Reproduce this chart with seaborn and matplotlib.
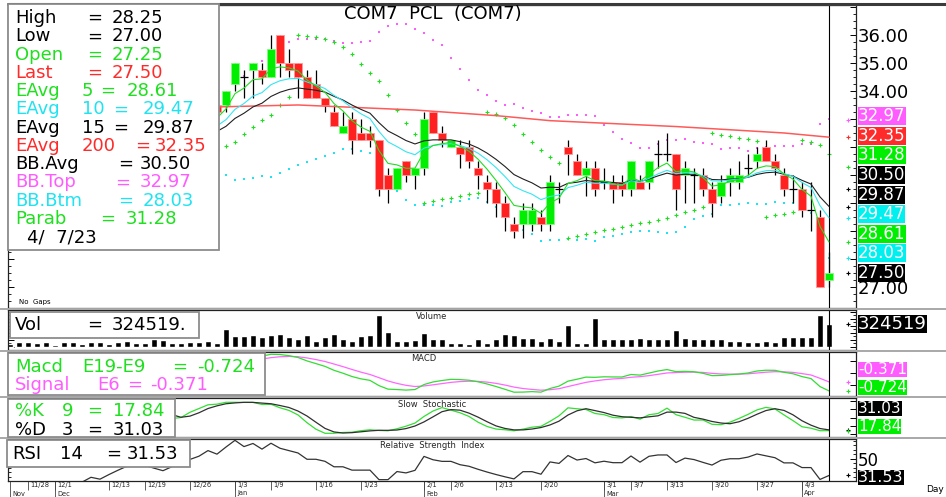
import numpy as np
import pandas as pd
import seaborn as sns
import matplotlib.pyplot as plt
import matplotlib.transforms as mtrans
from matplotlib.patches import Rectangle
from matplotlib.lines import Line2D
from matplotlib.ticker import MultipleLocator

# daily bars of COM7, 24 Nov 2022 .. 7 Apr 2023 (the first ~23 sit behind the info box)
opens = [31.5, 31.75, 31.5, 31.25, 31.5, 31.75, 31.5, 31.25, 31.5, 31.75,
         32.0, 31.75, 32.0, 32.25, 32.5, 32.75, 32.5, 32.25, 32.0, 32.25,
         32.5, 32.75, 33.0, 33.5, 33.5, 34.25, 34.5, 34.75, 34.75, 34.5,
         36.0, 35.0, 35.0, 34.5, 34.25, 33.75, 33.25, 32.5, 33.0, 32.5,
         32.5, 32.25, 31.0, 30.5, 31.5, 31.0, 31.25, 33.25, 32.5, 32.0,
         32.0, 32.0, 31.25, 30.75, 30.5, 30.0, 29.25, 29.25, 29.25, 29.5,
         29.25, 30.5, 32.0, 31.5, 31.0, 31.25, 30.75, 30.75, 30.75, 30.5,
         30.75, 30.75, 31.75, 31.75, 31.75, 31.0, 31.0, 31.0, 30.5, 30.25,
         30.75, 30.75, 31.25, 31.5, 32.0, 31.5, 31.0, 30.5, 30.5, 29.75,
         29.5, 27.25]
highs = [32.0, 32.0, 31.75, 31.75, 32.0, 31.75, 31.75, 31.75, 32.0, 32.25,
         32.25, 32.25, 32.5, 32.75, 33.0, 33.0, 32.75, 32.5, 32.5, 32.75,
         33.0, 33.25, 33.5, 33.5, 34.0, 35.0, 34.75, 35.0, 35.0, 36.0,
         36.0, 35.5, 35.0, 34.75, 34.75, 33.75, 33.5, 33.25, 33.25, 33.0,
         32.75, 32.25, 31.25, 31.25, 31.5, 31.25, 33.25, 33.25, 32.75, 32.25,
         32.25, 32.25, 31.5, 31.0, 30.75, 30.25, 29.5, 30.0, 30.0, 29.75,
         31.0, 30.75, 32.25, 31.75, 31.5, 31.5, 31.25, 31.0, 31.0, 31.5,
         31.0, 31.5, 32.25, 32.5, 31.75, 31.5, 31.25, 31.25, 30.75, 31.0,
         31.25, 31.5, 31.75, 32.0, 32.25, 31.75, 31.25, 31.0, 30.75, 30.75,
         29.75, 28.25]
lows = [31.25, 31.25, 31.0, 31.0, 31.25, 31.25, 31.0, 31.0, 31.25, 31.5,
        31.5, 31.5, 31.75, 32.0, 32.25, 32.25, 32.0, 31.75, 31.75, 32.0,
        32.25, 32.5, 32.75, 33.0, 33.25, 34.0, 33.75, 33.75, 34.25, 34.5,
        34.5, 34.5, 33.75, 33.75, 33.75, 33.25, 32.75, 32.5, 31.75, 32.25,
        32.0, 30.25, 30.0, 30.5, 30.75, 30.5, 31.0, 32.5, 32.0, 32.0,
        31.25, 31.25, 30.5, 30.0, 29.5, 29.0, 28.75, 28.75, 29.0, 29.0,
        29.0, 30.0, 31.0, 31.0, 30.25, 30.25, 30.5, 30.0, 30.25, 30.25,
        30.5, 30.5, 31.25, 31.5, 29.75, 30.0, 30.0, 30.25, 29.5, 30.0,
        30.25, 30.5, 31.0, 31.25, 31.5, 31.0, 30.25, 30.0, 29.5, 29.0,
        27.0, 27.0]
closes = [31.75, 31.5, 31.25, 31.5, 31.75, 31.5, 31.25, 31.5, 31.75, 32.0,
          31.75, 32.0, 32.25, 32.5, 32.75, 32.5, 32.25, 32.0, 32.25, 32.5,
          32.75, 33.0, 33.5, 33.25, 34.0, 35.0, 34.5, 35.0, 34.5, 35.5,
          35.0, 34.75, 34.5, 33.75, 33.75, 33.5, 32.75, 32.75, 32.25, 32.25,
          32.25, 30.5, 30.5, 31.25, 31.0, 31.25, 33.0, 32.5, 32.25, 32.25,
          31.75, 31.5, 31.0, 30.5, 30.0, 29.5, 29.0, 29.75, 29.75, 29.25,
          30.75, 30.5, 31.75, 31.0, 31.25, 30.5, 30.75, 30.5, 30.5, 31.5,
          30.5, 31.5, 31.75, 31.75, 30.5, 31.25, 31.0, 30.5, 30.0, 30.75,
          31.0, 31.0, 31.25, 31.75, 31.5, 31.25, 30.5, 30.5, 29.75, 29.75,
          27.0, 27.5]
# volume, thousands of shares
volume = [45, 70, 75, 60, 70, 35, 65, 70, 40, 70,
          65, 40, 75, 80, 55, 60, 110, 100, 55, 60,
          70, 65, 85, 60, 250, 155, 150, 170, 140, 165,
          180, 140, 110, 165, 80, 140, 180, 120, 90, 150,
          170, 450, 215, 90, 85, 95, 200, 110, 110, 55,
          60, 40, 110, 60, 120, 180, 175, 130, 130, 85,
          125, 85, 310, 60, 60, 405, 110, 110, 120, 110,
          130, 110, 110, 120, 235, 130, 120, 110, 120, 110,
          80, 85, 75, 75, 85, 75, 140, 140, 140, 140,
          450, 324.519]

tick_bars = [2, 5, 11, 15, 20, 25, 29, 34, 39, 46, 49, 54, 59, 66, 69, 73, 78, 83, 88]
tick_labels = ["11/28", "12/1", "12/13", "12/19", "12/26", "1/3", "1/9", "1/16", "1/23",
               "2/1", "2/6", "2/13", "2/20", "3/1", "3/7", "3/13", "3/20", "3/27", "4/3"]
month_bars = [0, 5, 25, 46, 66, 88]
month_labels = ["Nov", "Dec", "Jan", "Feb", "Mar", "Apr"]

# price scale labels that are not hidden behind the value boxes
price_labels = [27, 34, 35, 36]

# EAvg 200 goes back far before the window, so it is read straight off the chart
ema200_bars = [23, 32, 45, 54, 60, 74, 86, 91]
ema200_vals = [33.43, 33.50, 33.32, 33.12, 32.94, 32.73, 32.50, 32.35]

# readout for the last bar
info_names = ["High", "Low", "Open", "Last", "EAvg", "EAvg", "EAvg", "EAvg",
              "BB.Avg", "BB.Top", "BB.Btm", "Parab"]
info_periods = ["", "", "", "", "5", "10", "15", "200", "", "", "", ""]
info_values = [28.25, 27.00, 27.25, 27.50, 28.61, 29.47, 29.87, 32.35,
               30.50, 32.97, 28.03, 31.28]
last_date = "4/  7/23"
vol_last = 324519
macd_last, signal_last = -0.724, -0.371
k_last, d_last = 17.84, 31.03
rsi_last = 31.53

GREEN, RED, CYAN, MAG, BLACK = "#1fe01f", "#ff2a2a", "#1fe3f0", "#ff5cff", "#000000"

# ---------- indicators ----------
df = pd.DataFrame({"open": opens, "high": highs, "low": lows, "close": closes, "volume": volume})
bars = np.arange(len(df))
o, h, l, c = (df[k].to_numpy() for k in ["open", "high", "low", "close"])
close = df["close"]

ema5 = close.ewm(span=5, adjust=False).mean()
ema10 = close.ewm(span=10, adjust=False).mean()
ema15 = close.ewm(span=15, adjust=False).mean()
bb_mid = close.rolling(20).mean()
bb_sd = close.rolling(20).std(ddof=0)
bb_top = bb_mid + 2 * bb_sd
bb_btm = bb_mid - 2 * bb_sd


def parabolic(high, low, step=0.02, cap=0.2):
    sar = np.empty(len(high))
    up, af, ep = True, step, high[0]
    sar[0] = low[0]
    for i in range(1, len(high)):
        s = sar[i - 1] + af * (ep - sar[i - 1])
        if up:
            s = min(s, low[i - 1], low[max(i - 2, 0)])
            if low[i] < s:
                up, s, ep, af = False, ep, low[i], step
            elif high[i] > ep:
                ep, af = high[i], min(af + step, cap)
        else:
            s = max(s, high[i - 1], high[max(i - 2, 0)])
            if high[i] > s:
                up, s, ep, af = True, ep, high[i], step
            elif low[i] < ep:
                ep, af = low[i], min(af + step, cap)
        sar[i] = s
    return sar


sar = parabolic(h, l)

macd = close.ewm(span=9, adjust=False).mean() - close.ewm(span=19, adjust=False).mean()
signal = macd.ewm(span=6, adjust=False).mean()

ll = df["low"].rolling(9).min()
hh = df["high"].rolling(9).max()
slow_k = (100 * (close - ll) / (hh - ll)).rolling(3).mean()
slow_d = slow_k.rolling(3).mean()

delta = close.diff()
gain = delta.clip(lower=0).ewm(alpha=1 / 14, adjust=False).mean()
loss = (-delta.clip(upper=0)).ewm(alpha=1 / 14, adjust=False).mean()
rsi = 100 - 100 / (1 + gain / loss)

# ---------- figure ----------
sns.set_style("white")
plt.rcParams["font.family"] = ["DejaVu Sans"]

W, H = 946, 497
fig = plt.figure(figsize=(W / 100, H / 100), dpi=100)


def rect(x0, y0, x1, y1):
    return [x0 / W, 1 - y1 / H, (x1 - x0) / W, (y1 - y0) / H]


ax_p = fig.add_axes(rect(8, 5, 856, 308))
ax_v = fig.add_axes(rect(8, 310, 856, 350))
ax_m = fig.add_axes(rect(8, 352, 856, 396))
ax_s = fig.add_axes(rect(8, 398, 856, 437))
ax_r = fig.add_axes(rect(8, 439, 856, 481))
panels = [ax_p, ax_v, ax_m, ax_s, ax_r]

for ax in panels:
    ax.set_xlim(-0.22, 94)
    ax.set_xticks([])
    for sp in ax.spines.values():
        sp.set_color("#222222")
        sp.set_linewidth(0.9)
    ax.tick_params(axis="y", which="both", direction="in", left=True, right=True,
                   labelleft=False, labelright=True, colors="black", labelsize=13, pad=1.5)
    ax.tick_params(axis="y", which="major", length=4, width=0.7)
    ax.tick_params(axis="y", which="minor", length=2.5, width=0.6)
    ax.axvline(bars[-1], color="black", lw=0.8, zorder=2.5)


def value_box(ax, x, y, s, bg, transform, size=12):
    ax.text(x, y, s, transform=transform, color="white", fontsize=size, va="center",
            ha="left", clip_on=False, zorder=6,
            bbox=dict(boxstyle="square,pad=0", fc=bg, ec="none"))


# --- price panel
ax = ax_p
ax.set_ylim(26.25, 37.07)
ax.yaxis.set_major_locator(MultipleLocator(1))
ax.yaxis.set_minor_locator(MultipleLocator(0.25))
ax.yaxis.set_major_formatter(lambda v, p: f"{v:.2f}" if round(v) in price_labels else "")

sns.scatterplot(x=bars[19:], y=bb_top[19:].values, ax=ax, color=MAG, marker="s", s=2,
                linewidth=0, zorder=1)
sns.scatterplot(x=bars[19:], y=bb_btm[19:].values, ax=ax, color=CYAN, marker="s", s=2,
                linewidth=0, zorder=1)
sns.scatterplot(x=bars[1:], y=sar[1:], ax=ax, color=GREEN, marker="+", s=8,
                linewidth=0.8, zorder=1)

up, dn, flat = c > o, c < o, c == o
ax.vlines(bars, l, h, color="black", lw=0.9, zorder=2)
ax.bar(bars[up], (c - o)[up], bottom=o[up], width=0.82, color="#00ee00",
       edgecolor="#80ff80", linewidth=0.6, zorder=3)
ax.bar(bars[dn], (o - c)[dn], bottom=c[dn], width=0.82, color="#ff2020",
       edgecolor="#ff9a9a", linewidth=0.6, zorder=3)
ax.hlines(c[flat], bars[flat] - 0.42, bars[flat] + 0.42, color="black", lw=0.9, zorder=3)

sns.lineplot(x=ema200_bars, y=ema200_vals, ax=ax, color="#ff5a5a", linewidth=1.1, zorder=4)
sns.lineplot(x=bars, y=ema15.values, ax=ax, color="#202020", linewidth=0.8, zorder=4)
sns.lineplot(x=bars, y=ema10.values, ax=ax, color="#33e6f2", linewidth=0.8, zorder=4)
sns.lineplot(x=bars, y=ema5.values, ax=ax, color="#22dd22", linewidth=0.8, zorder=4)
ax.set_xlabel("")
ax.set_ylabel("")

# value boxes on the price scale, stacked upward so they do not overlap
box_rows = [3, 10, 4, 5, 6, 8, 11, 7, 9]
box_bg = [BLACK, "#00f0f0", "#00ee00", "#00f0f0", BLACK, BLACK, "#00ee00", RED, MAG]
box_mark = [BLACK, CYAN, GREEN, CYAN, BLACK, BLACK, GREEN, RED, MAG]
rt = mtrans.blended_transform_factory(ax.transAxes, ax.transData)
gap = 19.6 * (37.07 - 26.25) / 303
prev = -np.inf
for r, bg, mk in zip(box_rows, box_bg, box_mark):
    v = info_values[r]
    pos = max(v, prev + gap)
    prev = pos
    value_box(ax, 1.0025, pos, f"{v:.2f}", bg, rt)
    ax.plot([0.9905], [v], transform=rt, marker="+", ms=3.5, mew=0.8, color=mk,
            clip_on=False, zorder=6)

# --- volume
ax = ax_v
sns.barplot(x=bars, y=df["volume"].values, ax=ax, color="black", width=0.66,
            native_scale=True, saturation=1, zorder=2)
ax.set_xlim(-0.22, 94)
ax.set_ylim(-42, 522)
ax.set_xlabel("")
ax.set_ylabel("")
ax.set_xticks([])
ax.set_yticks([0, 100, 200, 300, 400, 500])
ax.yaxis.set_minor_locator(MultipleLocator(50))
ax.tick_params(labelright=False)
ax.text(0.5, 0.96, "Volume", transform=ax.transAxes, ha="center", va="top", fontsize=6)
rt = mtrans.blended_transform_factory(ax.transAxes, ax.transData)
value_box(ax, 1.0025, vol_last / 1000, f"{vol_last}", "black", rt, size=13)
ax.plot([0.9905], [vol_last / 1000], transform=rt, marker="+", ms=3.5, mew=0.8,
        color="black", clip_on=False)

# --- MACD
ax = ax_m
sns.lineplot(x=bars, y=signal.values, ax=ax, color="#ff66ff", linewidth=0.9)
sns.lineplot(x=bars, y=macd.values, ax=ax, color="#33dd33", linewidth=0.9)
vis = slice(28, None)
lo = min(macd[vis].min(), signal[vis].min())
hi = max(macd[vis].max(), signal[vis].max())
pad = (hi - lo) * 0.1
ax.set_ylim(lo - pad, hi + pad * 0.6)
ax.yaxis.set_major_locator(plt.MaxNLocator(4))
ax.tick_params(labelright=False)
ax.set_xlabel("")
ax.set_ylabel("")
ax.text(0.49, 0.96, "MACD", transform=ax.transAxes, ha="center", va="top", fontsize=6)
value_box(ax, 1.0025, 0.60, f"{signal_last:.3f}", MAG, ax.transAxes, size=11)
value_box(ax, 1.0025, 0.20, f"{macd_last:.3f}", "#00ee00", ax.transAxes, size=11)
rt = mtrans.blended_transform_factory(ax.transAxes, ax.transData)
ax.plot([0.9905], [signal.iloc[-1]], transform=rt, marker="+", ms=3, mew=0.8, color=MAG, clip_on=False)
ax.plot([0.9905], [macd.iloc[-1]], transform=rt, marker="+", ms=3, mew=0.8, color=GREEN, clip_on=False)

# --- slow stochastic
ax = ax_s
sns.lineplot(x=bars[12:], y=slow_k[12:].values, ax=ax, color="#33e033", linewidth=0.9)
sns.lineplot(x=bars[14:], y=slow_d[14:].values, ax=ax, color="#303030", linewidth=0.9)
ax.set_ylim(-8, 108)
ax.set_yticks([0, 25, 50, 75, 100])
ax.tick_params(labelright=False)
ax.set_xlabel("")
ax.set_ylabel("")
ax.text(0.5, 0.96, "Slow  Stochastic", transform=ax.transAxes, ha="center", va="top", fontsize=6)
value_box(ax, 1.0025, 0.72, f"{d_last:.2f}", "black", ax.transAxes, size=11)
value_box(ax, 1.0025, 0.27, f"{k_last:.2f}", "#00ee00", ax.transAxes, size=11)
rt = mtrans.blended_transform_factory(ax.transAxes, ax.transData)
ax.plot([0.9905], [slow_d.iloc[-1]], transform=rt, marker="+", ms=3, mew=0.8, color="black", clip_on=False)
ax.plot([0.9905], [slow_k.iloc[-1]], transform=rt, marker="+", ms=3, mew=0.8, color=GREEN, clip_on=False)

# --- RSI
ax = ax_r
sns.lineplot(x=bars[1:], y=rsi[1:].values, ax=ax, color="#333333", linewidth=0.9)
rv = rsi[18:]
ax.set_ylim(min(27.7, rv.min() - 1.5), max(68.3, rv.max() + 1.5))
ax.set_yticks([50])
ax.yaxis.set_minor_locator(MultipleLocator(5))
ax.tick_params(axis="y", labelsize=12)
ax.set_xlabel("")
ax.set_ylabel("")
ax.text(0.5, 0.96, "Relative  Strength  Index", transform=ax.transAxes, ha="center",
        va="top", fontsize=6)
rt = mtrans.blended_transform_factory(ax.transAxes, ax.transData)
value_box(ax, 1.0025, 0.09, f"{rsi_last:.2f}", "black", ax.transAxes, size=11.5)
ax.plot([0.9905], [rsi.iloc[-1]], transform=rt, marker="+", ms=3, mew=0.8, color="black", clip_on=False)

# date band under the last panel
xt = ax.get_xaxis_transform()
ax.vlines(tick_bars, -9 / 42, 0, transform=xt, color="#444444", lw=0.6, clip_on=False)
ax.vlines(month_bars, -16 / 42, 0, transform=xt, color="#444444", lw=0.6, clip_on=False)
for b, s in zip(tick_bars, tick_labels):
    ax.text(b + 0.25, -4.5 / 42, s, transform=xt, fontsize=4.8, ha="left", va="center", clip_on=False)
for b, s in zip(month_bars, month_labels):
    ax.text(b + 0.25, -12.5 / 42, s, transform=xt, fontsize=4.8, ha="left", va="center", clip_on=False)


# ---------- overlay boxes and texts (pixel layout) ----------
def fbox(x0, y0, x1, y1):
    fig.add_artist(Rectangle((x0 / W, 1 - y1 / H), (x1 - x0) / W, (y1 - y0) / H,
                             transform=fig.transFigure, facecolor="white",
                             edgecolor="#8c8c8c", linewidth=1.3, zorder=5))


def ftext(x, y, s, color="black", size=13, ha="left"):
    fig.text(x / W, 1 - y / H, s, color=color, fontsize=size, ha=ha, va="center", zorder=6)


# panel separators
for y in [308.5, 351, 397, 438]:
    fig.add_artist(Line2D([0, 1], [1 - y / H, 1 - y / H], transform=fig.transFigure,
                          color="#a8a8a8", lw=1.4, zorder=1))
fig.add_artist(Line2D([8 / W, 1], [1 - 4 / H, 1 - 4 / H], transform=fig.transFigure,
                      color="#3a3a3a", lw=2.2, zorder=1))

ftext(433, 14, "COM7  PCL  (COM7)", ha="center")
ftext(19, 302, "No  Gaps", size=5)
ftext(926, 490, "Day", size=6.5)

# price readout
fbox(8, 4, 219, 250)
info_colors = [BLACK, BLACK, GREEN, RED, GREEN, CYAN, BLACK, RED, BLACK, MAG, CYAN, GREEN]
eq_x = [87, 87, 87, 87, 100, 113, 113, 135, 118, 115, 118, 100]
val_x = [112, 112, 112, 112, 127, 143, 143, 155, 140, 140, 143, 126]
for i, (name, per, val, col) in enumerate(zip(info_names, info_periods, info_values, info_colors)):
    y = 18 + 18.25 * i
    ftext(15, y, name, col)
    if per:
        ftext(82, y, per, col)
    ftext(eq_x[i], y, "=", col)
    ftext(val_x[i], y, f"{val:.2f}", col)
ftext(27, 237, last_date)

# volume readout
fbox(10, 312, 199, 338)
ftext(15, 325, "Vol")
ftext(87, 325, "=")
ftext(112, 325, f"{vol_last}.")

# MACD readout
fbox(8, 353, 265, 395)
ftext(15, 367, "Macd", GREEN)
ftext(82, 367, "E19-E9", GREEN)
ftext(172, 367, "=", GREEN)
ftext(197, 367, f"{macd_last:.3f}", GREEN)
ftext(15, 385, "Signal", MAG)
ftext(97, 385, "E6", MAG)
ftext(127, 385, "=", MAG)
ftext(150, 385, f"{signal_last:.3f}", MAG)

# stochastic readout
fbox(8, 399, 175, 437)
ftext(15, 411, "%K", GREEN)
ftext(62, 411, "9", GREEN)
ftext(87, 411, "=", GREEN)
ftext(113, 411, f"{k_last:.2f}", GREEN)
ftext(15, 430, "%D")
ftext(62, 430, "3")
ftext(87, 430, "=")
ftext(113, 430, f"{d_last:.2f}")

# RSI readout
fbox(7, 440, 190, 467)
ftext(12, 454, "RSI")
ftext(60, 454, "14")
ftext(106, 454, "=")
ftext(127, 454, f"{rsi_last:.2f}")

fig.savefig("out.png", dpi=100)
